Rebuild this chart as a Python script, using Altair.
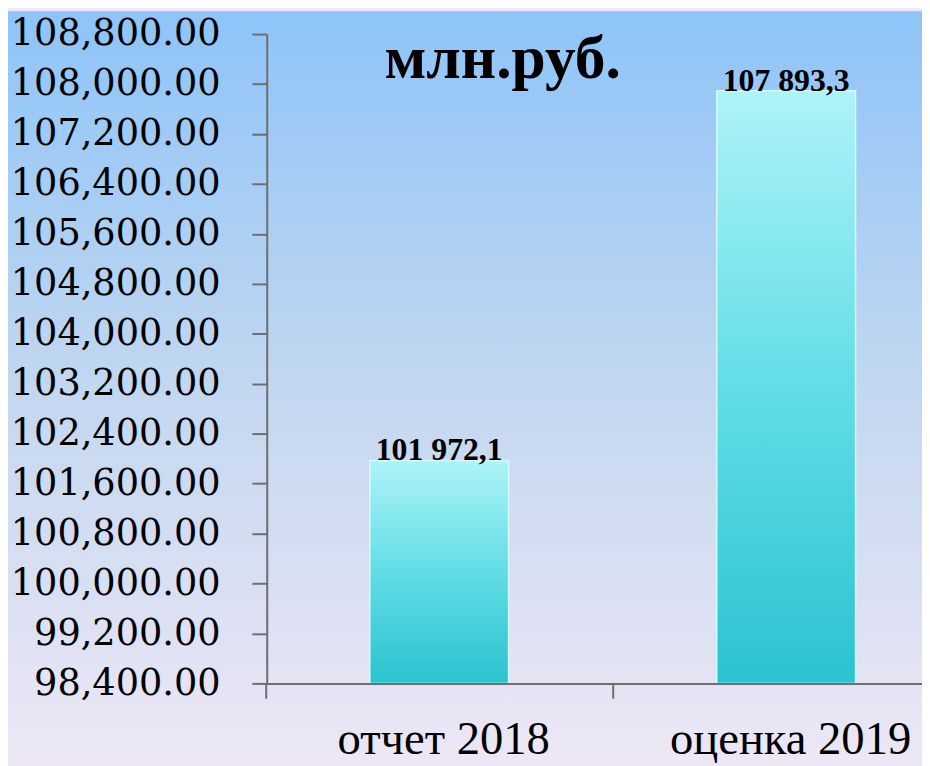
import altair as alt
import pandas as pd

# ---- data ----
categories = ["отчет 2018", "оценка 2019"]
values = [101972.1, 107893.3]
value_labels = ["101 972,1", "107 893,3"]
y_ticks = [98400, 99200, 100000, 100800, 101600, 102400, 103200,
           104000, 104800, 105600, 106400, 107200, 108000, 108800]
y_domain = [98400, 108800]
unit_title = "млн.руб."

df = pd.DataFrame({"cat": categories, "val": values, "lab": value_labels})

W, H = 661, 655
PAD_L, PAD_T, PAD_B = 261, 23, 80
STEP = 350

axis_gray = "#6e6e6e"
serif = "Liberation Serif"

bg_grad = {
    "gradient": "linear", "x1": 0, "y1": 0, "x2": 0, "y2": 1,
    "stops": [
        {"offset": 0, "color": "#8ec4f8"},
        {"offset": 0.5, "color": "#c2d7f0"},
        {"offset": 1, "color": "#ede7f5"},
    ],
}
bar_grad = {
    "gradient": "linear", "x1": 0, "y1": 0, "x2": 0, "y2": 1,
    "stops": [
        {"offset": 0, "color": "#aef3f8"},
        {"offset": 0.5, "color": "#62dde6"},
        {"offset": 1, "color": "#2ac3cf"},
    ],
}

x_scale = alt.Scale(domain=categories, paddingInner=0.6, paddingOuter=0.2443, align=0.608)
y_scale = alt.Scale(domain=y_domain, zero=False, nice=False)

bg = alt.Chart(pd.DataFrame({"k": [0]})).mark_rect(fill=bg_grad).encode(
    x=alt.value(-PAD_L), x2=alt.value(W), y=alt.value(-PAD_T), y2=alt.value(H + PAD_B)
)

base = alt.Chart(df)

bars = base.mark_bar(fill=bar_grad, stroke="#d4fbfd", strokeWidth=1.5).encode(
    x=alt.X("cat:N", scale=x_scale, sort=categories,
            axis=alt.Axis(title=None, domainColor=axis_gray, domainWidth=2,
                          tickColor=axis_gray, tickWidth=2, tickSize=15,
                          tickOffset=-STEP / 2, labelOffset=STEP / 2 + 4,
                          labelFont=serif, labelFontSize=47, labelLimit=600,
                          labelColor="black", labelAngle=0, labelBaseline="alphabetic",
                          labelPadding=56, zindex=1)),
    y=alt.Y("val:Q", scale=y_scale,
            axis=alt.Axis(values=y_ticks, format=",.2f", title=None, grid=False,
                          domainColor=axis_gray, domainWidth=2, tickColor=axis_gray,
                          tickWidth=2, tickSize=15, labelPadding=32,
                          labelFont="DejaVu Serif", labelFontSize=37, labelLimit=600,
                          labelColor="black", labelOverlap=False, zindex=1)),
    y2=alt.datum(y_domain[0]),
)

labels = base.mark_text(font=serif, fontWeight="bold", fontSize=32,
                        baseline="alphabetic", color="black").encode(
    x=alt.X("cat:N", sort=categories), y="val:Q", text="lab:N"
)

title = alt.Chart(pd.DataFrame({"t": [unit_title]})).mark_text(
    font=serif, fontSize=62, fontWeight="bold", align="center",
    baseline="alphabetic", color="black"
).encode(x=alt.value(238), y=alt.value(44), text="t:N")

chart = alt.layer(bg, bars, labels, title).properties(
    width=W, height=H,
    autosize=alt.AutoSizeParams(type="none"),
    padding={"left": PAD_L, "top": PAD_T, "right": 0, "bottom": PAD_B},
).configure(background="#ede7f5").configure_view(stroke=None)

chart.save("out.html", embed_options={"renderer": "svg", "actions": False})
